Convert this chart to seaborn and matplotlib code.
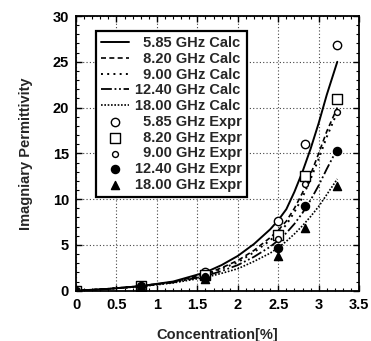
import matplotlib
matplotlib.use("Agg")
import matplotlib.pyplot as plt
import seaborn as sns
import numpy as np
from matplotlib.ticker import MultipleLocator

sns.set_theme(style="ticks")
plt.rcParams['font.family'] = ['Liberation Sans', 'DejaVu Sans']
plt.rcParams['font.weight'] = 'bold'

# Calculated curves
calc_x = [0, 0.4, 0.8, 1.2, 1.6, 1.8, 2.0, 2.2, 2.4, 2.5, 2.6, 2.7, 2.8, 2.9, 3.0, 3.1, 3.23]
calc_585 = [0, 0.2, 0.5, 1.0, 2.0, 2.8, 3.8, 5.1, 6.7, 7.7, 8.9, 10.8, 13.0, 15.5, 18.3, 21.4, 25.0]
calc_820 = [0, 0.2, 0.5, 0.95, 1.8, 2.5, 3.3, 4.4, 5.8, 6.6, 7.6, 9.0, 10.7, 12.7, 15.0, 17.4, 20.0]
calc_900 = [0, 0.2, 0.5, 0.95, 1.75, 2.4, 3.1, 4.2, 5.5, 6.3, 7.2, 8.6, 10.2, 12.2, 14.4, 16.8, 19.5]
calc_1240 = [0, 0.2, 0.5, 0.9, 1.6, 2.15, 2.8, 3.7, 4.8, 5.5, 6.3, 7.3, 8.5, 9.9, 11.5, 13.3, 15.5]
calc_1800 = [0, 0.2, 0.45, 0.85, 1.45, 1.9, 2.4, 3.2, 4.1, 4.7, 5.4, 6.2, 7.1, 8.1, 9.2, 10.5, 12.2]

# Experimental points
expr_x = [0, 0.8, 1.6, 2.5, 2.83, 3.23]
expr_585 = [0, 0.5, 2.0, 7.6, 16.0, 26.8]
expr_820 = [0, 0.5, 1.7, 6.1, 12.5, 20.9]
expr_900 = [0, 0.5, 1.6, 5.7, 11.7, 19.5]
expr_1240 = [0, 0.5, 1.4, 4.7, 9.2, 15.3]
expr_1800 = [0, 0.5, 1.3, 3.8, 6.9, 11.4]

fs = "\u2007"
calc_labels = [fs + "5.85 GHz Calc", fs + "8.20 GHz Calc", fs + "9.00 GHz Calc",
               "12.40 GHz Calc", "18.00 GHz Calc"]
expr_labels = [fs + "5.85 GHz Expr", fs + "8.20 GHz Expr", fs + "9.00 GHz Expr",
               "12.40 GHz Expr", "18.00 GHz Expr"]

fig = plt.figure(figsize=(3.71, 3.41), dpi=100)
ax = fig.add_axes([0.205, 0.1475, 0.763, 0.8055])

calc_series = [calc_585, calc_820, calc_900, calc_1240, calc_1800]
styles = ['-', (0, (3, 2)), (0, (1, 2.2)), (0, (6, 1.5, 1, 1.5, 1, 1.5)), (0, (1, 1))]
widths = [1.4, 1.2, 1.4, 1.3, 1.2]
for ys, lab, ls, lw in zip(calc_series, calc_labels, styles, widths):
    sns.lineplot(x=calc_x, y=ys, ax=ax, color='black', linestyle=ls, linewidth=lw,
                 label=lab, sort=False, estimator=None)

expr_series = [expr_585, expr_820, expr_900, expr_1240, expr_1800]
markers = ['o', 's', 'o', 'o', '^']
sizes = [36, 48, 18, 34, 34]
faces = ['white', 'white', 'white', 'black', 'black']
for ys, lab, m, s, fc in zip(expr_series, expr_labels, markers, sizes, faces):
    sns.scatterplot(x=expr_x, y=ys, ax=ax, marker=m, s=s, facecolor=fc,
                    edgecolor='black', linewidth=1.0, label=lab, zorder=3)

ax.set_xlim(0, 3.5)
ax.set_ylim(0, 30)
ax.yaxis.set_major_locator(MultipleLocator(5))
ax.xaxis.set_minor_locator(MultipleLocator(0.1))
ax.yaxis.set_minor_locator(MultipleLocator(1))
ax.set_xticks([0, 0.5, 1, 1.5, 2, 2.5, 3, 3.5])
ax.set_xticklabels(['0', '0.5', '1', '1.5', '2', '2.5', '3', '3.5'])
ax.grid(True, which='major', color='#444444', linestyle=(0, (1, 2)), linewidth=0.8)
ax.tick_params(which='both', direction='in', top=True, right=True, colors='black',
               labelsize=10.5)
ax.tick_params(which='major', length=4, width=1, pad=5)
ax.tick_params(which='minor', length=2, width=0.8)
for lbl in ax.get_xticklabels() + ax.get_yticklabels():
    lbl.set_fontweight('bold')
for sp in ax.spines.values():
    sp.set_linewidth(1.3)
    sp.set_color('black')

ax.set_xlabel("Concentration[%]", fontsize=10.5, fontweight='bold', labelpad=12)
ax.set_ylabel("Imagniary Permittivity", fontsize=10.5, fontweight='bold', labelpad=14)

leg = ax.legend(loc='upper left', bbox_to_anchor=(0.07, 0.945), fontsize=10.5,
                frameon=True, fancybox=False, framealpha=1, edgecolor='black',
                handlelength=1.9, handletextpad=0.45, labelspacing=0.12,
                borderpad=0.35, borderaxespad=0)
leg.get_frame().set_linewidth(1.6)
for t in leg.get_texts():
    t.set_fontweight('bold')

fig.savefig("out.png", dpi=100)
